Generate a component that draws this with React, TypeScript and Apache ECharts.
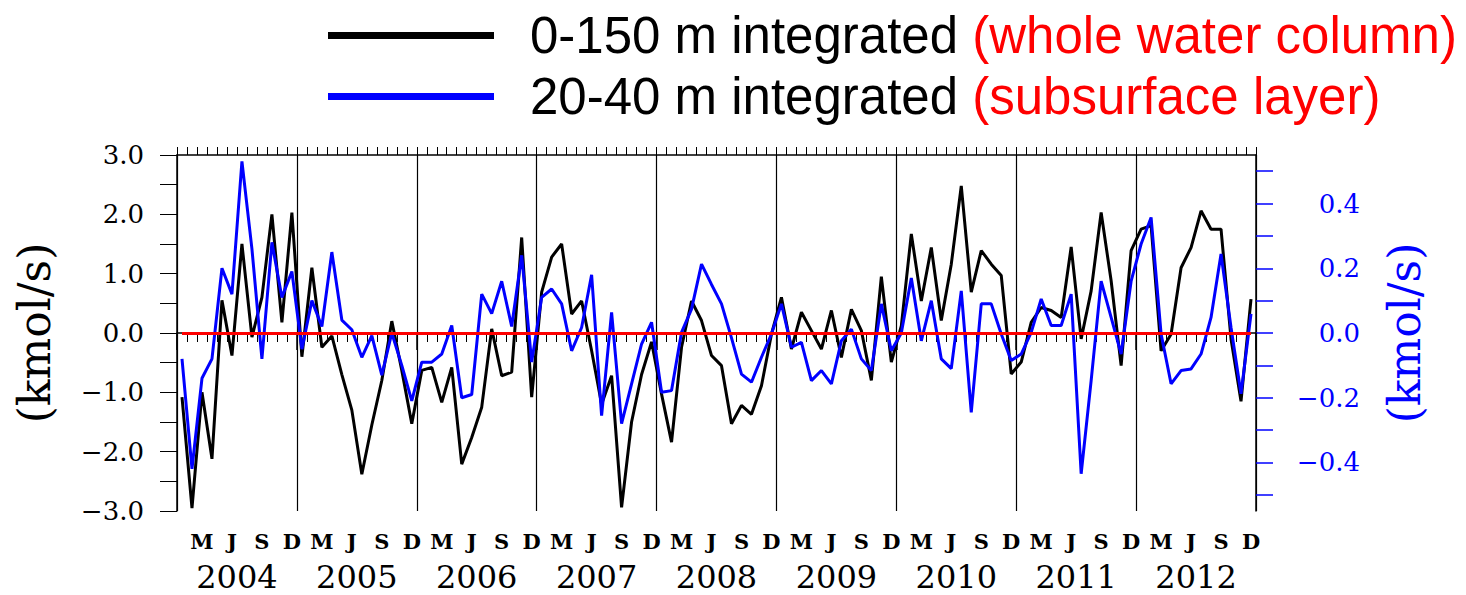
import React, { useEffect, useRef } from 'react';
import * as echarts from 'echarts';

// Monthly series, Jan 2004 – Dec 2012 (kmol/s)
const YEARS = [2004, 2005, 2006, 2007, 2008, 2009, 2010, 2011, 2012];
const MONTH_INITIALS = ['J', 'F', 'M', 'A', 'M', 'J', 'J', 'A', 'S', 'O', 'N', 'D'];
const LABELED_MONTHS = [2, 5, 8, 11];

// 0-150 m integrated transport (left axis)
const WHOLE_COLUMN = [
  -1.08, -2.95, -1.0, -2.12, 0.55, -0.38, 1.5, -0.07, 0.6, 2.0, 0.18, 2.03,
  -0.4, 1.1, -0.24, -0.05, -0.7, -1.3, -2.38, -1.55, -0.8, 0.2, -0.63, -1.53,
  -0.63, -0.58, -1.17, -0.58, -2.21, -1.76, -1.25, 0.07, -0.72, -0.66, 1.61, -1.08,
  0.69, 1.28, 1.5, 0.32, 0.54, -0.3, -1.2, -0.72, -2.94, -1.5, -0.7, -0.15,
  -1.03, -1.84, -0.24, 0.54, 0.21, -0.38, -0.55, -1.53, -1.22, -1.37, -0.89, -0.02,
  0.6, -0.27, 0.35, 0.04, -0.27, 0.38, -0.41, 0.4, 0.04, -0.8, 0.95, -0.49,
  0.12, 1.67, 0.54, 1.44, 0.21, 1.16, 2.48, 0.69, 1.39, 1.16, 0.97, -0.69,
  -0.49, 0.18, 0.43, 0.38, 0.26, 1.45, -0.1, 0.71, 2.03, 0.88, -0.55, 1.39,
  1.75, 1.81, -0.3, -0.02, 1.1, 1.44, 2.06, 1.75, 1.75, -0.1, -1.15, 0.57,
];

// 20-40 m integrated transport (right axis)
const SUBSURFACE = [
  -0.08, -0.42, -0.14, -0.08, 0.2, 0.12, 0.53, 0.26, -0.08, 0.28, 0.11, 0.19,
  -0.05, 0.1, 0.02, 0.25, 0.04, 0.01, -0.075, -0.008, -0.13, 0.0, -0.1, -0.21,
  -0.09, -0.09, -0.065, 0.023, -0.2, -0.19, 0.12, 0.06, 0.16, 0.02, 0.24, -0.09,
  0.11, 0.136, 0.09, -0.055, 0.017, 0.18, -0.255, 0.064, -0.28, -0.157, -0.034, 0.033,
  -0.183, -0.178, 0.002, 0.074, 0.213, 0.15, 0.09, -0.015, -0.127, -0.152, -0.075, -0.003,
  0.09, -0.044, -0.029, -0.147, -0.116, -0.157, -0.024, 0.012, -0.08, -0.116, 0.09, -0.055,
  0.0, 0.17, -0.024, 0.1, -0.08, -0.11, 0.13, -0.245, 0.09, 0.09, -0.003, -0.085,
  -0.065, 0.002, 0.105, 0.023, 0.023, 0.12, -0.435, -0.147, 0.16, 0.048, -0.065, 0.16,
  0.275, 0.357, -0.003, -0.157, -0.116, -0.111, -0.065, 0.048, 0.244, 0.017, -0.188, 0.059,
];

const RIGHT_TICK_VALUES = [-0.5, -0.4, -0.3, -0.2, -0.1, 0, 0.1, 0.2, 0.3, 0.4, 0.5];
const RIGHT_LABEL_VALUES = [-0.4, -0.2, 0, 0.2, 0.4];

const SERIES_A = '0-150 m integrated';
const SERIES_B = '20-40 m integrated';
const SERIES_NOTES: Record<string, string> = {
  [SERIES_A]: '(whole water column)',
  [SERIES_B]: '(subsurface layer)',
};

const UNIT = '(kmol/s)';

const MONTHS = YEARS.flatMap((y) => MONTH_INITIALS.map((_, m) => `${y}-${String(m + 1).padStart(2, '0')}`));

const BLUE = '#0000ff';
const RED = '#ff0000';
const SERIF = 'DejaVu Serif';

const signed = (v: number, digits: number) => {
  const r = Math.round(v * 1000) / 1000;
  return (r < 0 ? '\u2212' : '') + Math.abs(r).toFixed(digits);
};

export default function App() {
  const ref = useRef<HTMLDivElement>(null);

  useEffect(() => {
    if (!ref.current) return;
    const chart = echarts.init(ref.current, null, { renderer: 'svg' });

    chart.setOption({
      animation: false,
      backgroundColor: '#ffffff',
      legend: {
        orient: 'vertical',
        left: 328,
        top: 10,
        padding: 0,
        itemWidth: 166,
        itemHeight: 7,
        itemGap: 10,
        icon: 'rect',
        data: [SERIES_A, SERIES_B],
        formatter: (name: string) => `{p| }{a|${name}} {b|${SERIES_NOTES[name]}}`,
        textStyle: {
          fontFamily: 'Liberation Sans',
          fontSize: 51,
          lineHeight: 50,
          color: '#000',
          rich: {
            p: { width: 31, fontSize: 51, lineHeight: 50 },
            a: { fontFamily: 'Liberation Sans', fontSize: 51, lineHeight: 50, color: '#000' },
            b: { fontFamily: 'Liberation Sans', fontSize: 51, lineHeight: 50, color: RED },
          },
        },
      },
      grid: { left: 177, top: 155, width: 1079, height: 356 },
      xAxis: [
        {
          // monthly axis: data positions, month ticks and M/J/S/D labels
          type: 'category',
          data: MONTHS,
          position: 'bottom',
          boundaryGap: true,
          axisLine: { show: true, lineStyle: { color: '#000', width: 1.5 } },
          axisTick: { show: true, interval: 0, length: 9, lineStyle: { color: '#000', width: 1 } },
          axisLabel: {
            interval: (i: number) => LABELED_MONTHS.includes(i % 12),
            formatter: (_v: string, i: number) => MONTH_INITIALS[i % 12],
            fontFamily: SERIF,
            fontWeight: 'bold',
            fontSize: 21,
            lineHeight: 21,
            color: '#000',
            margin: 20,
          },
          splitLine: { show: false },
        },
        {
          // yearly axis: year boundaries and year labels
          type: 'category',
          data: YEARS.map(String),
          position: 'bottom',
          boundaryGap: true,
          axisLine: { show: false },
          axisTick: { show: true, interval: 0, length: 17, lineStyle: { color: '#000', width: 1.5 } },
          axisLabel: { fontFamily: SERIF, fontSize: 32, lineHeight: 28, color: '#000', margin: 52 },
          splitLine: { show: true, interval: 0, lineStyle: { color: '#000', width: 1.2 } },
        },
        {
          type: 'category',
          data: MONTHS,
          position: 'top',
          boundaryGap: true,
          axisLine: { show: true, lineStyle: { color: '#000', width: 1.5 } },
          axisTick: { show: true, interval: 0, length: 8, lineStyle: { color: '#000', width: 1 } },
          axisLabel: { show: false },
          splitLine: { show: false },
        },
      ],
      yAxis: [
        {
          type: 'value',
          position: 'left',
          min: -3,
          max: 3,
          interval: 0.5,
          name: UNIT,
          nameLocation: 'middle',
          nameRotate: 90,
          nameGap: 121,
          nameTextStyle: { fontFamily: SERIF, fontSize: 44, color: '#000' },
          axisLine: { show: true, lineStyle: { color: '#000', width: 1.5 } },
          axisTick: { show: true, length: 17, lineStyle: { color: '#000', width: 1 } },
          axisLabel: {
            formatter: (v: number) => (Number.isInteger(v) ? signed(v, 1) : ''),
            fontFamily: SERIF,
            fontSize: 26,
            color: '#000',
            margin: 33,
          },
          splitLine: { show: false },
        },
        {
          type: 'value',
          position: 'right',
          min: -0.55,
          max: 0.55,
          name: UNIT,
          nameLocation: 'middle',
          nameRotate: 90,
          nameGap: 126,
          nameTextStyle: { fontFamily: SERIF, fontSize: 44, color: BLUE },
          axisLine: { show: true, lineStyle: { color: '#000', width: 1.5 } },
          axisTick: {
            show: true,
            length: 17,
            customValues: RIGHT_TICK_VALUES,
            lineStyle: { color: BLUE, width: 1.5 },
          },
          axisLabel: {
            customValues: RIGHT_LABEL_VALUES,
            formatter: (v: number) => signed(v, 1),
            fontFamily: SERIF,
            fontSize: 26,
            color: BLUE,
            align: 'right',
            margin: 104,
          },
          splitLine: { show: false },
        },
      ],
      series: [
        {
          name: SERIES_A,
          type: 'line',
          xAxisIndex: 0,
          yAxisIndex: 0,
          data: WHOLE_COLUMN,
          symbol: 'none',
          color: '#000',
          itemStyle: { color: '#000' },
          lineStyle: { color: '#000', width: 3 },
          z: 3,
        },
        {
          name: SERIES_B,
          type: 'line',
          xAxisIndex: 0,
          yAxisIndex: 1,
          data: SUBSURFACE,
          symbol: 'none',
          color: BLUE,
          itemStyle: { color: BLUE },
          lineStyle: { color: BLUE, width: 3 },
          z: 4,
          markLine: {
            silent: true,
            symbol: 'none',
            label: { show: false },
            lineStyle: { color: RED, width: 3, type: 'solid' },
            data: [[{ coord: [MONTHS[0], 0] }, { coord: [MONTHS[MONTHS.length - 1], 0] }]],
          },
        },
      ],
    });

    return () => chart.dispose();
  }, []);

  return <div ref={ref} style={{ position: 'absolute', left: 0, top: 0, width: 1466, height: 595 }} />;
}
